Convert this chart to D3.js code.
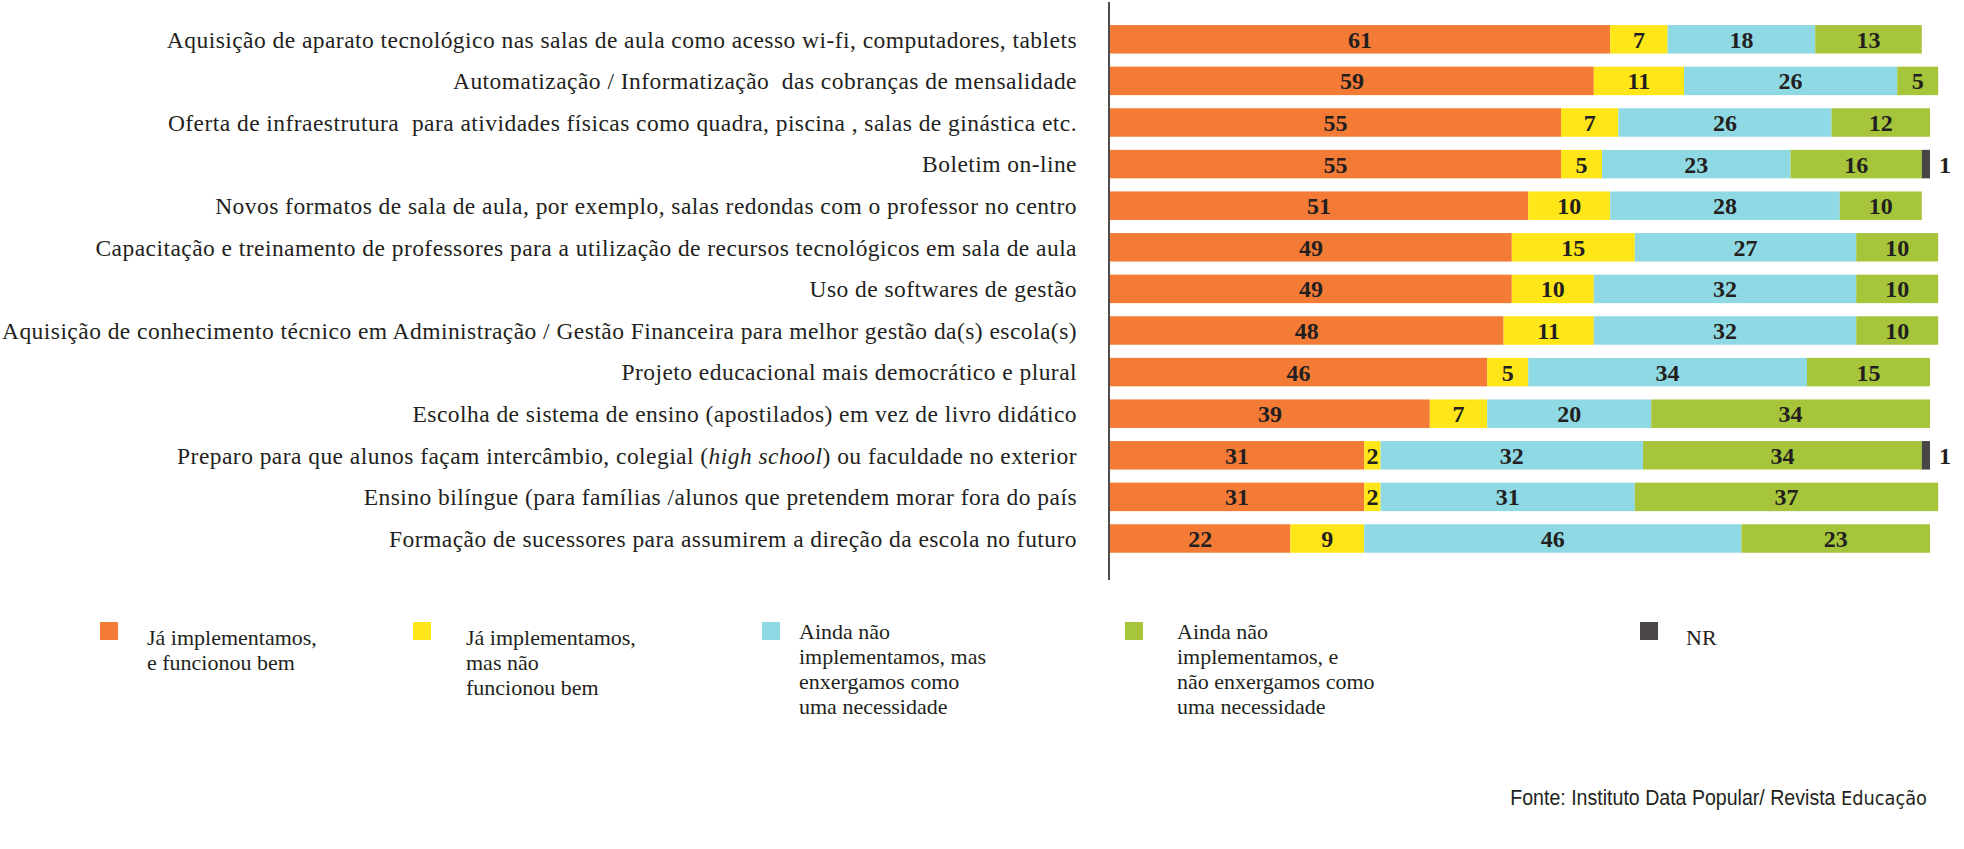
<!DOCTYPE html>
<html>
<head>
<meta charset="utf-8">
<script src="https://cdn.jsdelivr.net/npm/d3@7"></script>
<style>
  body { margin: 0; background: #fff; }
  text { white-space: pre; }
</style>
</head>
<body>
<div id="canvas"></div>
<script>
// chart data
const categories = [
  "Aquisição de aparato tecnológico nas salas de aula como acesso wi-fi, computadores, tablets",
  "Automatização / Informatização  das cobranças de mensalidade",
  "Oferta de infraestrutura  para atividades físicas como quadra, piscina , salas de ginástica etc.",
  "Boletim on-line",
  "Novos formatos de sala de aula, por exemplo, salas redondas com o professor no centro",
  "Capacitação e treinamento de professores para a utilização de recursos tecnológicos em sala de aula",
  "Uso de softwares de gestão",
  "Aquisição de conhecimento técnico em Administração / Gestão Financeira para melhor gestão da(s) escola(s)",
  "Projeto educacional mais democrático e plural",
  "Escolha de sistema de ensino (apostilados) em vez de livro didático",
  "Preparo para que alunos façam intercâmbio, colegial (high school) ou faculdade no exterior",
  "Ensino bilíngue (para famílias /alunos que pretendem morar fora do país",
  "Formação de sucessores para assumirem a direção da escola no futuro"
];
const italicPhrase = "high school";

const seriesKeys = ["bem", "naoBem", "necessidade", "semNecessidade", "nr"];
const implementouBem = [61, 59, 55, 55, 51, 49, 49, 48, 46, 39, 31, 31, 22];
const implementouMal = [7, 11, 7, 5, 10, 15, 10, 11, 5, 7, 2, 2, 9];
const naoMasNecessidade = [18, 26, 26, 23, 28, 27, 32, 32, 34, 20, 32, 31, 46];
const naoSemNecessidade = [13, 5, 12, 16, 10, 10, 10, 10, 15, 34, 34, 37, 23];
const naoRespondeu = [0, 0, 0, 1, 0, 0, 0, 0, 0, 0, 1, 0, 0];

const legendLabels = [
  ["Já implementamos,", "e funcionou bem"],
  ["Já implementamos,", "mas não", "funcionou bem"],
  ["Ainda não", "implementamos, mas", "enxergamos como", "uma necessidade"],
  ["Ainda não", "implementamos, e", "não enxergamos como", "uma necessidade"],
  ["NR"]
];
const colours = ["#f47b36", "#ffe619", "#8fd9e4", "#a6c53b", "#4a4648"];
const source = "Fonte: Instituto Data Popular/ Revista ";
const sourceBold = "Educação";

// build table
const table = categories.map((c, i) => ({
  category: c,
  bem: implementouBem[i],
  naoBem: implementouMal[i],
  necessidade: naoMasNecessidade[i],
  semNecessidade: naoSemNecessidade[i],
  nr: naoRespondeu[i]
}));
const stacked = d3.stack().keys(seriesKeys)(table);

// svg
const width = 1964, height = 849;
const svg = d3.select("#canvas").append("svg")
  .attr("width", width)
  .attr("height", height);

const serif = "'Liberation Serif', 'Times New Roman', serif";

// scales
const x = d3.scaleLinear().domain([0, 100]).range([1110, 1930]);
const y = d3.scaleBand()
  .domain(categories)
  .range([18.5, 559.3])
  .paddingInner(0.315)
  .paddingOuter(0.1575);

// bars
const layer = svg.append("g").selectAll("g")
  .data(stacked)
  .join("g")
  .attr("fill", (d, i) => colours[i]);

layer.selectAll("rect")
  .data(d => d.map(v => Object.assign(v, {key: d.key})))
  .join("rect")
  .attr("x", d => x(d[0]))
  .attr("y", d => y(d.data.category))
  .attr("width", d => x(d[1]) - x(d[0]))
  .attr("height", y.bandwidth());

// value labels
layer.selectAll("text")
  .data(d => d.filter(v => v[1] - v[0] > 0))
  .join("text")
  .attr("x", d => d.key === "nr" ? x(d[1]) + 15 : (x(d[0]) + x(d[1])) / 2)
  .attr("y", d => y(d.data.category) + y.bandwidth() / 2)
  .attr("dy", "0.35em")
  .attr("text-anchor", "middle")
  .attr("font-family", serif)
  .attr("font-weight", "bold")
  .attr("font-size", 24)
  .attr("fill", "#231f20")
  .text(d => d[1] - d[0]);

// axis line
svg.append("line")
  .attr("x1", 1109).attr("x2", 1109)
  .attr("y1", 2).attr("y2", 580)
  .attr("stroke", "#231f20")
  .attr("stroke-width", 1.6);

// category labels
const labels = svg.append("g").selectAll("text")
  .data(categories)
  .join("text")
  .attr("x", 1077)
  .attr("y", d => y(d) + y.bandwidth() / 2)
  .attr("dy", "0.35em")
  .attr("text-anchor", "end")
  .attr("font-family", serif)
  .attr("font-size", 23.5)
  .attr("letter-spacing", 0.45)
  .attr("fill", "#231f20");

labels.each(function(d) {
  const t = d3.select(this);
  const parts = d.split(italicPhrase);
  parts.forEach((p, i) => {
    t.append("tspan").text(p);
    if (i < parts.length - 1) t.append("tspan").attr("font-style", "italic").text(italicPhrase);
  });
});

// legend
const legendSquareX = [100, 413, 762, 1125, 1640];
const legendTextX = [147, 466, 799, 1177, 1686];
const legendTop = [645, 645, 639, 639, 645];
const legend = svg.append("g").selectAll("g")
  .data(legendLabels)
  .join("g");

legend.append("rect")
  .attr("x", (d, i) => legendSquareX[i])
  .attr("y", 622)
  .attr("width", 18)
  .attr("height", 18)
  .attr("fill", (d, i) => colours[i]);

legend.each(function(lines, i) {
  d3.select(this).selectAll("text")
    .data(lines)
    .join("text")
    .attr("x", legendTextX[i])
    .attr("y", (l, j) => legendTop[i] + j * 25)
    .attr("font-family", serif)
    .attr("font-size", 22)
    .attr("fill", "#231f20")
    .text(l => l);
});

// source (condensed by horizontal scale)
const src = svg.append("g")
  .attr("transform", "translate(1927,805) scale(0.89,1)")
  .append("text")
  .attr("text-anchor", "end")
  .attr("font-family", "'Liberation Sans', sans-serif")
  .attr("font-size", 22)
  .attr("fill", "#231f20");
src.append("tspan").text(source);
src.append("tspan")
  .attr("font-family", "'DejaVu Sans', sans-serif")
  .attr("font-size", 20)
  .text(sourceBold);
</script>
</body>
</html>
